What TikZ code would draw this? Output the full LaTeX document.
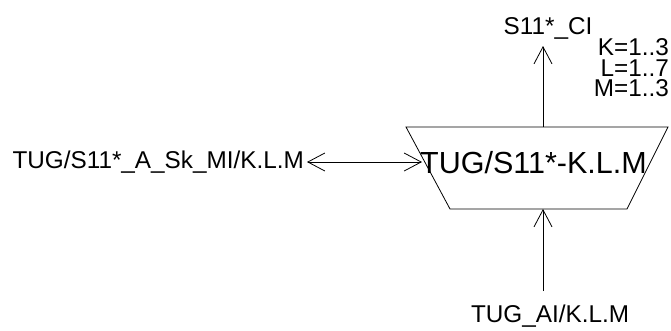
\documentclass[tikz,border=0pt]{standalone}
\usepackage{fontspec}
\setmainfont{Liberation Sans}
\usetikzlibrary{arrows.meta}
\begin{document}
\begin{tikzpicture}[x=1pt,y=-1pt,
  lbl/.style={inner sep=0pt, font=\fontsize{24.3}{20.5}\selectfont},
  big/.style={inner sep=0pt, font=\fontsize{30.5}{33}\selectfont},
  ln/.style={line width=0.8pt},
  tip/.style={Straight Barb[length=17pt,width=18pt,line width=0.8pt]},
  arr/.style={line width=0.8pt, -{Straight Barb[length=17pt,width=18pt,line width=0.8pt]}},
  darr/.style={line width=0.8pt, {Straight Barb[length=17pt,width=18pt,line width=0.8pt]}-{Straight Barb[length=17pt,width=18pt,line width=0.8pt]}}]
\useasboundingbox (0,0) rectangle (671,330);
% trapezoid
\coordinate (tl) at (406,127);
\coordinate (tr) at (668,127);
\coordinate (br) at (627,209);
\coordinate (bl) at (450,209);
\draw[ln] (tl) -- (tr) -- (br) -- (bl) -- cycle;
\node[big] (main) at (533.5,163) {TUG/S11*-K.L.M};
% labels
\node[lbl] (ci) at (548,28) {S11*\_CI};
\node[lbl,anchor=north east,align=right] (klm) at (669,38.5) {K=1..3\\L=1..7\\M=1..3};
\node[lbl,anchor=east] (mi) at (304,162) {TUG/S11*\_A\_Sk\_MI/K.L.M};
\node[lbl] (ai) at (550,316) {TUG\_AI/K.L.M};
% connectors
\coordinate (topin) at (543,127);
\coordinate (topout) at (543,46);
\coordinate (botin) at (543,209);
\coordinate (botout) at (543,291);
\coordinate (lfin) at (422,162);
\coordinate (lfout) at (307,162);
\draw[arr] (topin) -- (topout);
\draw[arr] (botout) -- (botin);
\draw[darr] (lfout) -- (lfin);
\end{tikzpicture}
\end{document}
